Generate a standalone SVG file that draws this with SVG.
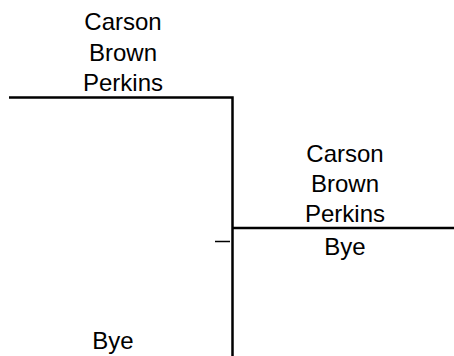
<svg xmlns="http://www.w3.org/2000/svg" width="454" height="356" viewBox="0 0 454 356">
<style>
.t{font-family:"Liberation Sans",Arial,sans-serif;font-size:24px;fill:#000;text-anchor:middle}
.l{stroke:#000;stroke-width:2.5;fill:none}
</style>
<rect width="454" height="356" fill="#fff"/>
<g id="connectors">
<path class="l" d="M9 97.5H232.5V356"/>
<path class="l" d="M232.5 228H454"/>
<path d="M215 241.5H230" stroke="#000" stroke-width="1.5"/>
</g>
<g id="node-top">
<text class="t" x="123" y="30">Carson</text>
<text class="t" x="123" y="60.5">Brown</text>
<text class="t" x="123" y="91">Perkins</text>
</g>
<g id="node-right">
<text class="t" x="345" y="162">Carson</text>
<text class="t" x="345" y="192">Brown</text>
<text class="t" x="345" y="222">Perkins</text>
<text class="t" x="345" y="255">Bye</text>
</g>
<g id="node-bottom">
<text class="t" x="113" y="349">Bye</text>
</g>
</svg>
